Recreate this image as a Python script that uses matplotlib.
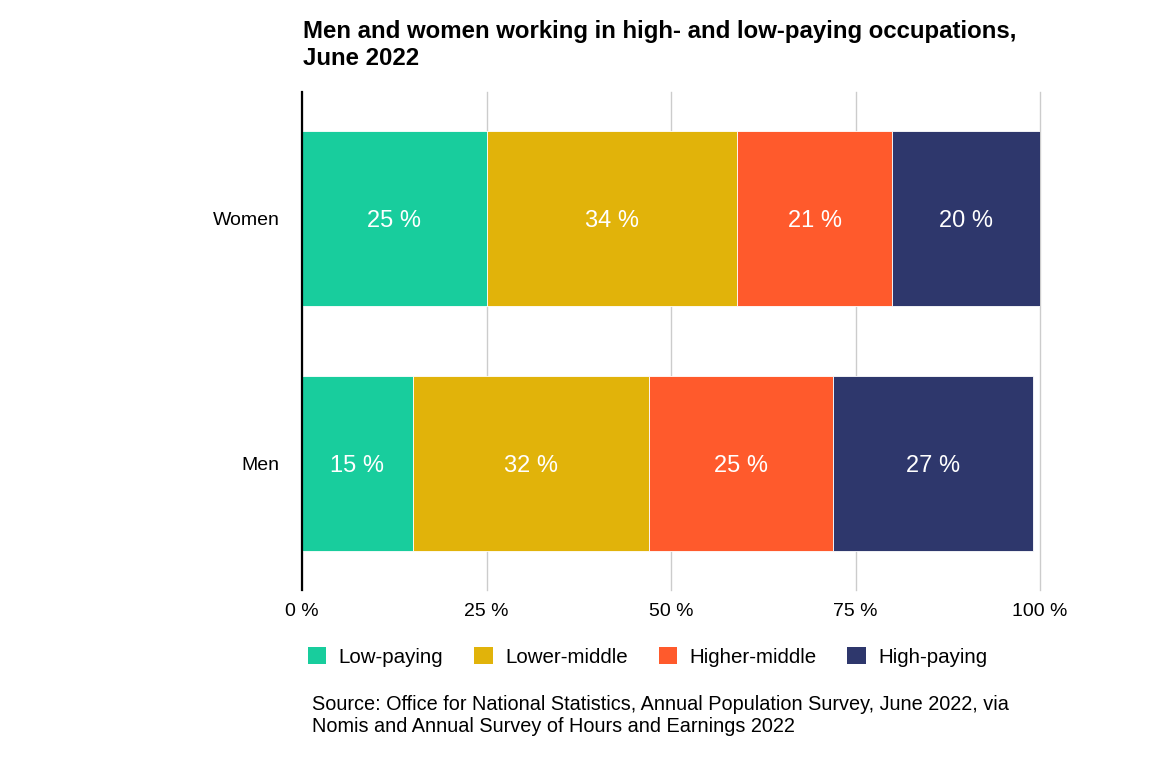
import matplotlib
matplotlib.use("Agg")
import matplotlib.pyplot as plt
from matplotlib.patches import Patch

plt.rcParams['font.family'] = ['Liberation Sans', 'DejaVu Sans']

categories = ["Men", "Women"]
series_names = ["Low-paying", "Lower-middle", "Higher-middle", "High-paying"]
low_paying = [15, 25]
lower_middle = [32, 34]
higher_middle = [25, 21]
high_paying = [27, 20]
x_ticks = [0, 25, 50, 75, 100]
x_tick_labels = ["0 %", "25 %", "50 %", "75 %", "100 %"]

colors = ["#18CD9D", "#E1B30A", "#FF5A2C", "#2E376C"]
title = "Men and women working in high- and low-paying occupations,\nJune 2022"
source = ("Source: Office for National Statistics, Annual Population Survey, June 2022, via\n"
          "Nomis and Annual Survey of Hours and Earnings 2022")

fig = plt.figure(figsize=(11.56, 7.6), dpi=100)
ax = fig.add_axes([302/1156, 1-590/760, (1040-302)/1156, (590-92)/760])

series = [low_paying, lower_middle, higher_middle, high_paying]
left = [0, 0]
ypos = list(range(len(categories)))
for vals, col, name in zip(series, colors, series_names):
    ax.barh(ypos, vals, left=left, height=0.713, color=col,
            edgecolor='white', linewidth=0.6, label=name, zorder=3)
    for y, v, l in zip(ypos, vals, left):
        ax.text(l + v/2, y, f"{v} %", ha='center', va='center_baseline',
                color='white', fontsize=17, zorder=4)
    left = [a + b for a, b in zip(left, vals)]

ax.set_xlim(0, 100)
ax.set_ylim(-0.515, 1.515)
ax.set_xticks(x_ticks)
ax.set_xticklabels(x_tick_labels, fontsize=14)
ax.set_yticks(ypos)
ax.set_yticklabels(categories, fontsize=14)
ax.tick_params(axis='both', length=0)
ax.tick_params(axis='x', pad=9)
ax.tick_params(axis='y', pad=16)
ax.xaxis.grid(True, color='#cccccc', linewidth=1, zorder=0)
for gl in ax.get_xgridlines():
    gl.set_clip_on(False)
ax.set_axisbelow(True)
for s in ['top', 'right', 'bottom']:
    ax.spines[s].set_visible(False)
ax.spines['left'].set_color('black')
ax.spines['left'].set_linewidth(1.6)
ax.spines['left'].set_zorder(5)

fig.text(303/1156, 1-20/760, title, fontsize=17.3, fontweight='bold',
         ha='left', va='top', linespacing=1.22)

handles = [Patch(facecolor=c, edgecolor='none', label=n) for c, n in zip(colors, series_names)]
fig.legend(handles=handles, loc='upper left', bbox_to_anchor=(308/1156, 1-647/760),
           ncol=4, frameon=False, fontsize=14.8, borderpad=0, borderaxespad=0,
           handlelength=0.9, handleheight=0.9, handletextpad=0.6,
           columnspacing=1.5)

fig.text(312/1156, 1-695/760, source, fontsize=14.3, ha='left', va='top', linespacing=1.22)

fig.savefig("out.png", dpi=100)
